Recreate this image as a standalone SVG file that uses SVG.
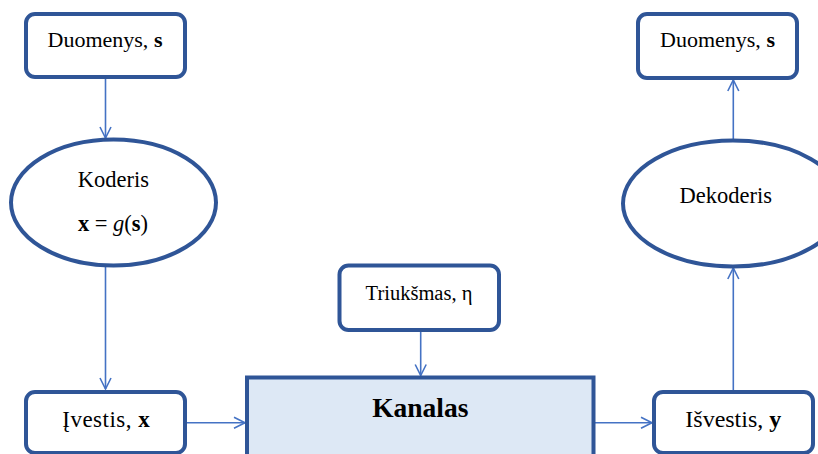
<svg xmlns="http://www.w3.org/2000/svg" width="818" height="454" viewBox="0 0 818 454">
  <defs>
    <marker id="arr" markerUnits="userSpaceOnUse" markerWidth="16" markerHeight="16" refX="0" refY="0" viewBox="-13 -8 16 16" orient="auto">
      <path d="M-11,-5.5 L0,0 L-11,5.5" fill="none" stroke="#4472C4" stroke-width="1.6"/>
    </marker>
    <style>
      .node { fill: #ffffff; stroke: #2F5597; stroke-width: 4; }
      .chan { fill: #DDE8F5; stroke: #2F5597; stroke-width: 4; }
      .conn { stroke: #4472C4; stroke-width: 1.6; fill: none; marker-end: url(#arr); }
      .t { font-family: 'Liberation Serif', 'DejaVu Serif', serif; font-size: 22px; fill: #000000; text-anchor: middle; }
      .b { font-weight: bold; }
      .i { font-style: italic; }
    </style>
  </defs>

  <g id="connectors">
    <line class="conn" x1="105.5" y1="77" x2="105.5" y2="138"/>
    <line class="conn" x1="105.5" y1="266" x2="105.5" y2="389"/>
    <line class="conn" x1="185" y1="422.7" x2="245" y2="422.7"/>
    <line class="conn" x1="420.7" y1="330" x2="420.7" y2="375.5"/>
    <line class="conn" x1="594" y1="422.7" x2="652" y2="422.7"/>
    <line class="conn" x1="733.3" y1="390" x2="733.3" y2="268"/>
    <line class="conn" x1="733.3" y1="140" x2="733.3" y2="80"/>
  </g>

  <g id="duomenys-in">
    <rect class="node" x="26" y="14" width="159" height="63" rx="9"/>
    <text class="t" x="105" y="46.7">Duomenys, <tspan class="b">s</tspan></text>
  </g>

  <g id="koderis">
    <ellipse class="node" cx="113.5" cy="202.5" rx="102.5" ry="63"/>
    <text class="t" x="113.3" y="187" style="font-size:22.5px">Koderis</text>
    <text class="t" x="113" y="231" style="font-size:22.5px"><tspan class="b">x</tspan> = <tspan class="i">g</tspan>(<tspan class="b">s</tspan>)</text>
  </g>

  <g id="ivestis">
    <rect class="node" x="26" y="392" width="159" height="61" rx="9"/>
    <text class="t" x="106" y="426.7" style="font-size:23px" textLength="87.5" lengthAdjust="spacing">Įvestis, <tspan class="b">x</tspan></text>
  </g>

  <g id="triuksmas">
    <rect class="node" x="339.5" y="265.5" width="159.5" height="64.5" rx="9"/>
    <text class="t" x="419" y="300" style="font-size:20.5px">Triukšmas, η</text>
  </g>

  <g id="kanalas">
    <rect class="chan" x="247" y="377.5" width="346.5" height="90"/>
    <text class="t b" x="420.3" y="417" style="font-size:27.5px">Kanalas</text>
  </g>

  <g id="isvestis">
    <rect class="node" x="654" y="392" width="159" height="61" rx="9"/>
    <text class="t" x="733.3" y="426.5" style="font-size:24px">Išvestis, <tspan class="b">y</tspan></text>
  </g>

  <g id="dekoderis">
    <ellipse class="node" cx="733" cy="203.5" rx="110" ry="63"/>
    <text class="t" x="725.8" y="203" style="font-size:22.5px">Dekoderis</text>
  </g>

  <g id="duomenys-out">
    <rect class="node" x="638" y="14" width="159" height="64" rx="9"/>
    <text class="t" x="717.5" y="47">Duomenys, <tspan class="b">s</tspan></text>
  </g>
</svg>
